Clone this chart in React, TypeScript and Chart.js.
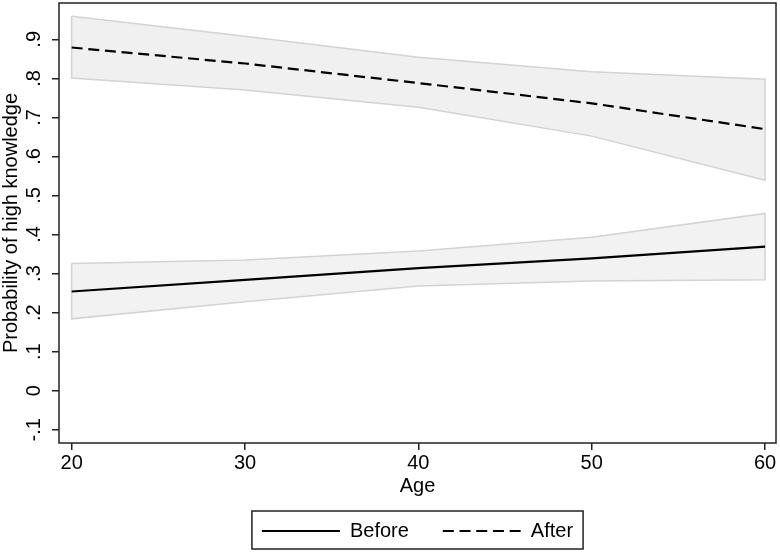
import React, { useEffect, useRef } from "react";
import { Chart, registerables } from "chart.js";

Chart.register(...registerables);

const ages = [20, 30, 40, 50, 60];
const beforeMean = [0.254, 0.284, 0.314, 0.339, 0.369];
const beforeUpper = [0.326, 0.335, 0.358, 0.393, 0.454];
const beforeLower = [0.184, 0.228, 0.268, 0.281, 0.284];
const afterMean = [0.879, 0.838, 0.788, 0.736, 0.67];
const afterUpper = [0.959, 0.908, 0.854, 0.817, 0.798];
const afterLower = [0.801, 0.77, 0.726, 0.652, 0.539];
const xTicks = [20, 30, 40, 50, 60];
const yTicks = [-0.1, 0, 0.1, 0.2, 0.3, 0.4, 0.5, 0.6, 0.7, 0.8, 0.9];
const yTickLabels = ["-.1", "0", ".1", ".2", ".3", ".4", ".5", ".6", ".7", ".8", ".9"];
const seriesNames = ["Before", "After"];

const toPoints = (ys: number[]) => ages.map((a, i) => ({ x: a, y: ys[i] }));
const bandPolygon = (upper: number[], lower: number[]) => {
  const up = toPoints(upper);
  const low = toPoints(lower).reverse();
  return [...up, ...low, up[0]];
};

const framePlugin = {
  id: "frameAndLegendBox",
  afterDraw(chart: any) {
    const { ctx, chartArea } = chart;
    ctx.save();
    ctx.strokeStyle = "#222";
    ctx.lineWidth = 1.5;
    ctx.strokeRect(chartArea.left, chartArea.top, chartArea.right - chartArea.left, chartArea.bottom - chartArea.top);
    const hb = chart.legend && chart.legend.legendHitBoxes;
    if (hb && hb.length) {
      const first = hb[0];
      const last = hb[hb.length - 1];
      const left = first.left - 10;
      const right = last.left + last.width + 10;
      const top = first.top - 10;
      const bottom = first.top + first.height + 8;
      ctx.lineWidth = 1.5;
      ctx.strokeRect(left, top, right - left, bottom - top);
    }
    ctx.restore();
  },
};

export default function App() {
  const canvasRef = useRef<HTMLCanvasElement | null>(null);

  useEffect(() => {
    document.body.style.margin = "0";
    const canvas = canvasRef.current;
    if (!canvas) return;
    Chart.defaults.font.family = "'Liberation Sans', Arial, sans-serif";
    Chart.defaults.font.size = 20;
    Chart.defaults.color = "#000";
    const defaultGenerate = (Chart.defaults as any).plugins.legend.labels.generateLabels;

    const chart = new Chart(canvas, {
      type: "line",
      data: {
        datasets: [
          {
            label: seriesNames[0],
            data: toPoints(beforeMean),
            borderColor: "#000",
            backgroundColor: "#000",
            borderWidth: 2.2,
            pointRadius: 0,
            fill: false,
            order: 0,
          },
          {
            label: seriesNames[1],
            data: toPoints(afterMean),
            borderColor: "#000",
            backgroundColor: "#000",
            borderWidth: 2.2,
            borderDash: [11, 5.7],
            pointRadius: 0,
            fill: false,
            order: 1,
          },
          {
            label: "Before CI",
            data: bandPolygon(beforeUpper, beforeLower),
            borderColor: "#d3d3d3",
            backgroundColor: "#f2f2f2",
            borderWidth: 1.5,
            pointRadius: 0,
            fill: "shape",
            order: 10,
          },
          {
            label: "After CI",
            data: bandPolygon(afterUpper, afterLower),
            borderColor: "#d3d3d3",
            backgroundColor: "#f0f0f0",
            borderWidth: 1.5,
            pointRadius: 0,
            fill: "shape",
            order: 11,
          },
        ],
      },
      options: {
        responsive: false,
        animation: false,
        devicePixelRatio: 1,
        layout: { padding: { top: 3, right: 4, bottom: 1, left: 0 } },
        elements: { line: { tension: 0 } },
        scales: {
          x: {
            type: "linear",
            min: 19.27,
            max: 60.63,
            afterBuildTicks: (s: any) => {
              s.ticks = xTicks.map((v) => ({ value: v }));
            },
            afterFit: (s: any) => {
              s.height = 44;
              s.paddingLeft = 0;
              s.paddingRight = 0;
            },
            ticks: {
              padding: 1.5,
              maxRotation: 0,
              autoSkip: false,
              color: "#000",
              font: { size: 20 },
              callback: (v: any) => String(v),
            },
            grid: {
              display: true,
              drawOnChartArea: false,
              drawTicks: true,
              tickLength: 7,
              color: "#222",
              lineWidth: 1.5,
            },
            border: { display: false },
            title: {
              display: true,
              text: "Age",
              color: "#000",
              font: { size: 20, lineHeight: 1 },
              padding: { top: 0, bottom: -9.5 },
            },
          },
          y: {
            type: "linear",
            min: -0.134,
            max: 0.993,
            afterBuildTicks: (s: any) => {
              s.ticks = yTicks.map((v) => ({ value: v }));
            },
            afterFit: (s: any) => {
              s.width = 59;
              s.paddingTop = 0;
              s.paddingBottom = 0;
            },
            ticks: {
              padding: 6,
              minRotation: 90,
              maxRotation: 90,
              crossAlign: "center",
              autoSkip: false,
              color: "#000",
              font: { size: 20 },
              callback: (_v: any, i: number) => yTickLabels[i],
            },
            grid: {
              display: true,
              drawOnChartArea: false,
              drawTicks: true,
              tickLength: 7,
              color: "#222",
              lineWidth: 1.5,
            },
            border: { display: false },
            title: {
              display: true,
              text: "Probability of high knowledge",
              color: "#000",
              font: { size: 20, lineHeight: 1.1 },
              padding: { top: 0, bottom: 0 },
            },
          },
        },
        plugins: {
          tooltip: { enabled: false },
          legend: {
            display: true,
            position: "bottom",
            fullSize: false,
            labels: {
              usePointStyle: true,
              pointStyle: "line",
              pointStyleWidth: 78,
              padding: 34,
              color: "#000",
              font: { size: 20 },
              filter: (item: any) => item.datasetIndex < 2,
              generateLabels: (c: any) => {
                const items = defaultGenerate(c);
                return items.map((it: any) => {
                  const ds = c.data.datasets[it.datasetIndex];
                  return {
                    ...it,
                    lineDash: ds.borderDash || [],
                    lineWidth: 2,
                    strokeStyle: "#000",
                    fillStyle: "#000",
                    pointStyle: "line",
                  };
                });
              },
            },
          },
        },
      } as any,
      plugins: [framePlugin],
    });

    return () => {
      chart.destroy();
    };
  }, []);

  return (
    <div style={{ width: 780, height: 552 }}>
      <canvas ref={canvasRef} width={780} height={552} style={{ width: 780, height: 552, display: "block" }} />
    </div>
  );
}
